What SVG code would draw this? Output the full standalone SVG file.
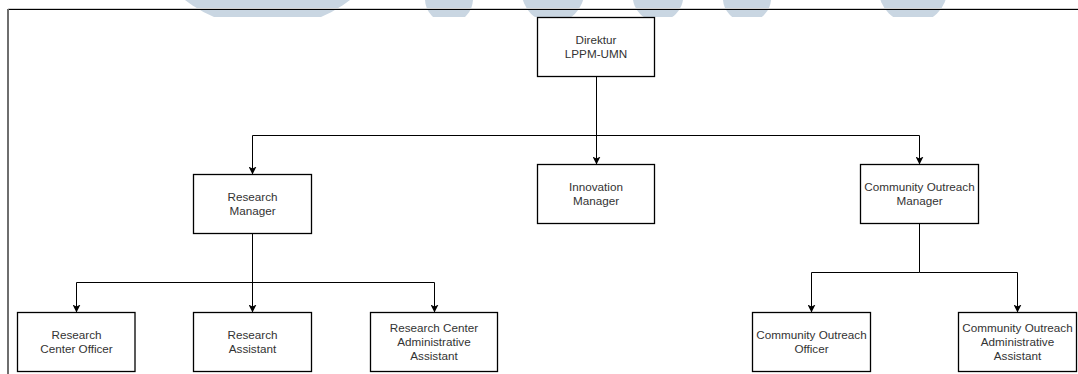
<svg xmlns="http://www.w3.org/2000/svg" width="1078" height="374" viewBox="0 0 1078 374">
  <style>
    .box { fill: #ffffff; stroke: #000000; stroke-width: 1.3; }
    .lbl { font-family: "Liberation Sans", Arial, sans-serif; font-size: 11.7px; fill: #333333; text-anchor: middle; }
    .conn { fill: none; stroke: #000000; stroke-width: 1; }
    .wm { fill: #c9d6e2; }
  </style>
  <defs>
    <marker id="arrow" viewBox="0 0 8 8" refX="8" refY="4" markerWidth="8" markerHeight="8" markerUnits="userSpaceOnUse" orient="auto">
      <path d="M0,0 L8,4 L0,8 L2,4 Z" fill="#000000"/>
    </marker>
    <clipPath id="wmclip">
      <rect x="0" y="0" width="1078" height="17"/>
    </clipPath>
  </defs>
  <rect x="0" y="0" width="1078" height="374" fill="#ffffff"/>

  <!-- watermark shapes -->
  <g id="watermark" clip-path="url(#wmclip)">
    <circle class="wm" cx="267.5" cy="-107.5" r="135.5"/>
    <circle class="wm" cx="449" cy="-1" r="24"/>
    <circle class="wm" cx="553" cy="-8.4" r="31.2"/>
    <circle class="wm" cx="658" cy="-4" r="25.3"/>
    <circle class="wm" cx="747" cy="-2" r="24.1"/>
    <circle class="wm" cx="913" cy="-11" r="34.3"/>
  </g>

  <!-- page frame -->
  <g id="frame">
    <line x1="8" y1="8.5" x2="1078" y2="8.5" stroke="#cfcfcf" stroke-width="1"/>
    <line x1="8" y1="9.5" x2="1078" y2="9.5" stroke="#000000" stroke-width="1"/>
    <line x1="8" y1="9" x2="8" y2="374" stroke="#6e6e6e" stroke-width="2"/>
  </g>

  <g id="connectors">
    <path class="conn" d="M596.5,76.5 L596.5,164.5" marker-end="url(#arrow)"/>
    <path class="conn" d="M596.5,135.5 L252.5,135.5 L252.5,174.5" marker-end="url(#arrow)"/>
    <path class="conn" d="M596.5,135.5 L919.5,135.5 L919.5,164.5" marker-end="url(#arrow)"/>
    <path class="conn" d="M252.5,233.5 L252.5,312.5" marker-end="url(#arrow)"/>
    <path class="conn" d="M252.5,282.5 L76.5,282.5 L76.5,312.5" marker-end="url(#arrow)"/>
    <path class="conn" d="M252.5,282.5 L434.5,282.5 L434.5,312.5" marker-end="url(#arrow)"/>
    <path class="conn" d="M919.5,223.5 L919.5,272.5 L811.5,272.5 L811.5,312.5" marker-end="url(#arrow)"/>
    <path class="conn" d="M919.5,272.5 L1017.5,272.5 L1017.5,312.5" marker-end="url(#arrow)"/>
  </g>

  <g id="direktur">
    <rect class="box" x="537.5" y="17.5" width="117" height="59"/>
    <text class="lbl" x="596" y="44">Direktur</text>
    <text class="lbl" x="596" y="58">LPPM-UMN</text>
  </g>
  <g id="innovation-manager">
    <rect class="box" x="537.5" y="164.5" width="117" height="59"/>
    <text class="lbl" x="596" y="191">Innovation</text>
    <text class="lbl" x="596" y="205">Manager</text>
  </g>
  <g id="research-manager">
    <rect class="box" x="193.5" y="174.5" width="118" height="59"/>
    <text class="lbl" x="252.5" y="201">Research</text>
    <text class="lbl" x="252.5" y="215">Manager</text>
  </g>
  <g id="community-outreach-manager">
    <rect class="box" x="860.5" y="164.5" width="118" height="59"/>
    <text class="lbl" x="919.5" y="191">Community Outreach</text>
    <text class="lbl" x="919.5" y="205">Manager</text>
  </g>
  <g id="research-center-officer">
    <rect class="box" x="17.5" y="312.5" width="117.5" height="59"/>
    <text class="lbl" x="76.5" y="339">Research</text>
    <text class="lbl" x="76.5" y="353">Center Officer</text>
  </g>
  <g id="research-assistant">
    <rect class="box" x="193.5" y="312.5" width="118" height="59"/>
    <text class="lbl" x="252.5" y="339">Research</text>
    <text class="lbl" x="252.5" y="353">Assistant</text>
  </g>
  <g id="research-center-admin-assistant">
    <rect class="box" x="370.5" y="312.5" width="127" height="59"/>
    <text class="lbl" x="434" y="332">Research Center</text>
    <text class="lbl" x="434" y="346">Administrative</text>
    <text class="lbl" x="434" y="360">Assistant</text>
  </g>
  <g id="community-outreach-officer">
    <rect class="box" x="752.5" y="312.5" width="118" height="59"/>
    <text class="lbl" x="811.5" y="339">Community Outreach</text>
    <text class="lbl" x="811.5" y="353">Officer</text>
  </g>
  <g id="community-outreach-admin-assistant">
    <rect class="box" x="958.5" y="312.5" width="118" height="59"/>
    <text class="lbl" x="1017.5" y="332">Community Outreach</text>
    <text class="lbl" x="1017.5" y="346">Administrative</text>
    <text class="lbl" x="1017.5" y="360">Assistant</text>
  </g>
</svg>
